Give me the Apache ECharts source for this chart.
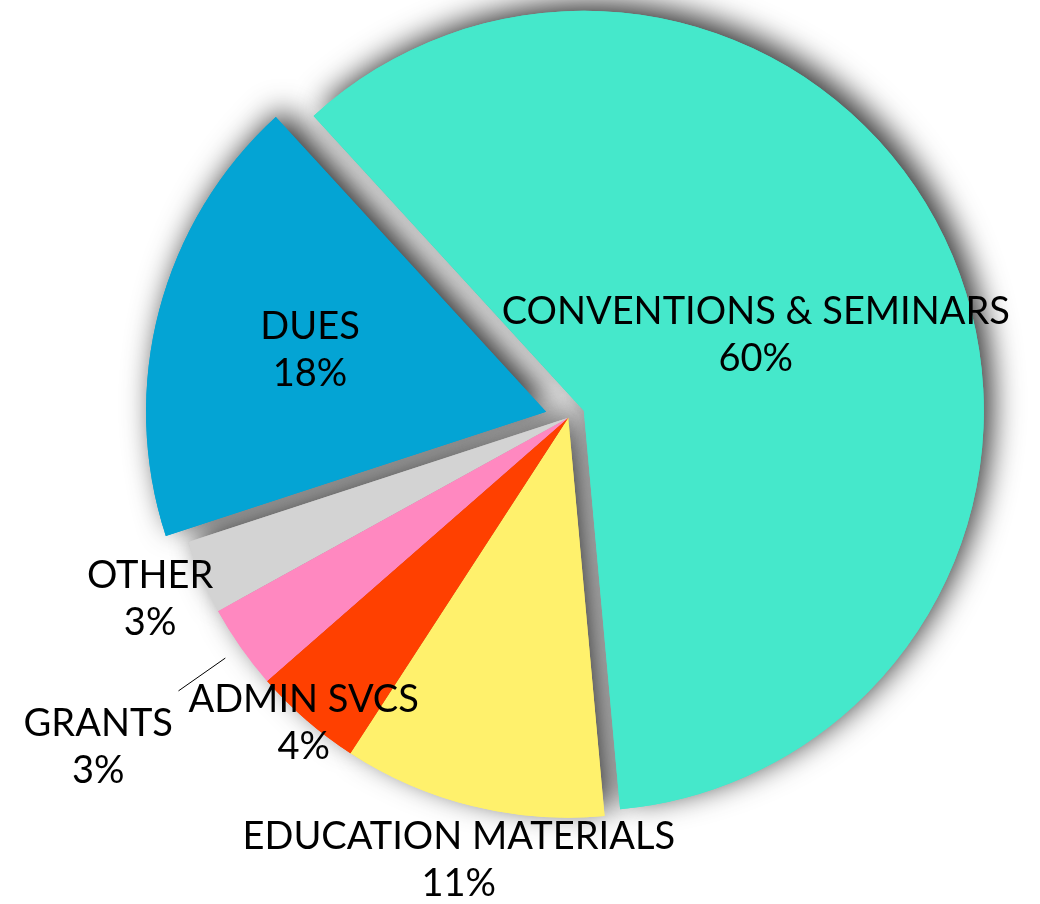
<!DOCTYPE html>
<html><head><meta charset="utf-8">
<script src="https://cdn.jsdelivr.net/npm/echarts@6/dist/echarts.min.js"></script>
<style>html,body{margin:0;padding:0;background:#fff}#c{width:1040px;height:904px}</style>
</head><body><div id="c"></div>
<script>
// ---- data ----
const categories = ['CONVENTIONS & SEMINARS', 'EDUCATION MATERIALS', 'ADMIN SVCS', 'GRANTS', 'OTHER', 'DUES'];
const values = [60.3, 10.6, 4.4, 3.4, 3.0, 18.2];

// ---- style / layout ----
const colors = ['#45E8CB', '#FFF16C', '#FF4000', '#FF88C0', '#D3D3D3', '#04A4D4'];
const explodeOffset = [17, 0, 0, 0, 0, 23];            // px pulled out of the pie
const labelRadius = [0.47, 1.14, 1.01, 1.435, 1.14, 0.61]; // label distance as fraction of radius
const leaderIndex = 3;
const CX = 568.3, CY = 417.7, R = 400, START = 132.5;
const FONT = 'Lato';

const total = values.reduce((a, b) => a + b, 0);
function midAngle(i) {
  let cum = 0;
  for (let k = 0; k < i; k++) cum += values[k];
  const a0 = START - 360 * cum / total;
  const a1 = a0 - 360 * values[i] / total;
  return (a0 + a1) / 2 * Math.PI / 180;
}
function polar(i, r) {
  const m = midAngle(i);
  const d = r + explodeOffset[i];
  return [CX + d * Math.cos(m), CY - d * Math.sin(m)];
}

// groups of slices sharing the same centre
const groups = [];
const mainMembers = categories.map((_, i) => i).filter(i => explodeOffset[i] === 0);
groups.push({members: mainMembers, center: [CX, CY]});
categories.forEach((_, i) => {
  if (explodeOffset[i] > 0) {
    const m = midAngle(i);
    groups.push({members: [i], center: [CX + explodeOffset[i] * Math.cos(m), CY - explodeOffset[i] * Math.sin(m)]});
  }
});

const series = [];
groups.forEach((g, gi) => {
  const isMember = i => g.members.indexOf(i) >= 0;
  // shadow layer
  series.push({
    type: 'pie', z: 1, silent: true, animation: false,
    center: g.center, radius: R, startAngle: START, clockwise: true,
    avoidLabelOverlap: false,
    label: {show: false}, labelLine: {show: false},
    emphasis: {disabled: true},
    data: categories.map((n, i) => ({
      name: n, value: values[i],
      itemStyle: isMember(i)
        ? {color: colors[i], shadowBlur: 30, shadowColor: 'rgba(0,0,0,0.8)', shadowOffsetX: 8, shadowOffsetY: -8}
        : {color: 'rgba(0,0,0,0)', shadowBlur: 0}
    }))
  });
});
groups.forEach((g, gi) => {
  const isMember = i => g.members.indexOf(i) >= 0;
  series.push({
    type: 'pie', z: 2, silent: true, animation: false,
    center: g.center, radius: R, startAngle: START, clockwise: true,
    avoidLabelOverlap: false,
    label: {
      show: true, color: '#000', fontFamily: FONT, fontSize: 38, lineHeight: 47,
      formatter: p => p.name + '\n' + Math.round(p.value) + '%'
    },
    labelLayout: p => {
      const i = p.dataIndex;
      const [x, y] = polar(i, labelRadius[i] * R);
      const o = {x: x, y: y, align: 'center', verticalAlign: 'middle'};
      if (i === leaderIndex) {
        const a = polar(i, 1.047 * R), b = polar(i, 1.19 * R);
        o.labelLinePoints = [a, b, b];
      }
      return o;
    },
    emphasis: {disabled: true},
    data: categories.map((n, i) => ({
      name: n, value: values[i],
      itemStyle: {color: isMember(i) ? colors[i] : 'rgba(0,0,0,0)'},
      label: isMember(i) ? {show: true, position: i === leaderIndex ? 'outside' : 'inside'} : {show: false},
      labelLine: {show: isMember(i) && i === leaderIndex, lineStyle: {color: '#000', width: 1}}
    }))
  });
});

const chart = echarts.init(document.getElementById('c'), null, {renderer: 'canvas'});
chart.setOption({animation: false, series: series});
</script>
</body></html>
